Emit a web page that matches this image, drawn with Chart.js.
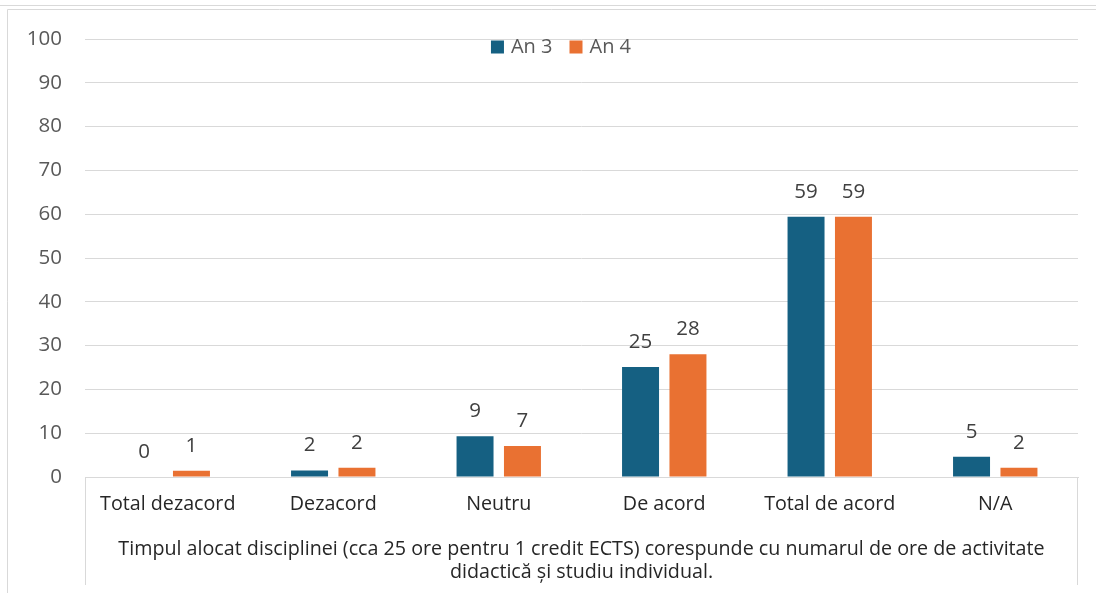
<!DOCTYPE html>
<html>
<head>
<meta charset="utf-8">
<script src="https://cdn.jsdelivr.net/npm/chart.js@4.4.1/dist/chart.umd.min.js"></script>
<style>
  html, body { margin: 0; padding: 0; background: #fff; }
  #wrap { width: 1096px; height: 593px; }
</style>
</head>
<body>
<div id="wrap"><canvas id="grafic"></canvas></div>
<script>
// date
const categorii = ['Total dezacord', 'Dezacord', 'Neutru', 'De acord', 'Total de acord', 'N/A'];
const an3 = [0, 1.5, 9.3, 25.1, 59.4, 4.6];
const an4 = [1.4, 2.1, 7.1, 28.0, 59.4, 2.1];
const ticksY = [0, 10, 20, 30, 40, 50, 60, 70, 80, 90, 100];
const titluAxa = [
    'Timpul alocat disciplinei (cca 25 ore pentru 1 credit ECTS) corespunde cu numarul de ore de activitate',
    'didactică și studiu individual.'
];

const FONT = 'Open Sans';

// etichete deasupra barelor (valori rotunjite)
const eticheteBare = {
    id: 'eticheteBare',
    afterDatasetsDraw(chart) {
        const ctx = chart.ctx;
        ctx.save();
        ctx.font = '20.5px "' + FONT + '"';
        ctx.fillStyle = '#404040';
        ctx.textAlign = 'center';
        ctx.textBaseline = 'middle';
        chart.data.datasets.forEach((ds, i) => {
            chart.getDatasetMeta(i).data.forEach((bar, j) => {
                ctx.fillText(String(Math.round(ds.data[j])), bar.x, bar.y - 25);
            });
        });
        ctx.restore();
    }
};

// legenda in interiorul zonei graficului, sus
const legenda = {
    id: 'legenda',
    afterDatasetsDraw(chart) {
        const ctx = chart.ctx;
        const y = chart.chartArea.top + 8;
        ctx.save();
        ctx.font = '20px "' + FONT + '"';
        ctx.textBaseline = 'middle';
        const items = chart.data.datasets.map(ds => ({ text: ds.label, color: ds.backgroundColor, w: ctx.measureText(ds.label).width }));
        const gap = 17, box = 13, boxGap = 7;
        const total = items.reduce((s, it) => s + box + boxGap + it.w, 0) + gap * (items.length - 1);
        let x = 561 - total / 2;
        items.forEach(it => {
            ctx.fillStyle = it.color;
            ctx.fillRect(x, y - box / 2, box, box);
            ctx.fillStyle = '#595959';
            ctx.fillText(it.text, x + box + boxGap, y);
            x += box + boxGap + it.w + gap;
        });
        ctx.restore();
    }
};

// chenar si caseta de sub axa
const chenar = {
    id: 'chenar',
    afterDraw(chart) {
        const ctx = chart.ctx;
        const a = chart.chartArea;
        ctx.save();
        ctx.strokeStyle = '#d9d9d9';
        ctx.lineWidth = 1;
        ctx.beginPath();
        ctx.moveTo(0, 5.5); ctx.lineTo(1096, 5.5);
        ctx.moveTo(7.5, 9.5); ctx.lineTo(1096, 9.5);
        ctx.moveTo(7.5, 9.5); ctx.lineTo(7.5, 593);
        ctx.moveTo(a.left + 0.5, a.bottom); ctx.lineTo(a.left + 0.5, 585);
        ctx.moveTo(a.right - 0.5, a.bottom); ctx.lineTo(a.right - 0.5, 585);
        ctx.stroke();
        ctx.restore();
    }
};

new Chart(document.getElementById('grafic'), {
    type: 'bar',
    data: {
        labels: categorii,
        datasets: [
            { label: 'An 3', data: an3, backgroundColor: '#156082' },
            { label: 'An 4', data: an4, backgroundColor: '#E97132' }
        ]
    },
    options: {
        responsive: true,
        maintainAspectRatio: false,
        animation: false,
        layout: { padding: { top: 39, right: 18, bottom: 0, left: 0 } },
        datasets: { bar: { categoryPercentage: 0.573, barPercentage: 0.78 } },
        plugins: {
            legend: { display: false },
            tooltip: { enabled: false }
        },
        scales: {
            x: {
                grid: { display: false, drawTicks: false },
                border: { color: '#d9d9d9' },
                ticks: { color: '#262626', padding: 16, font: { family: FONT, size: 19.7 }, maxRotation: 0 },
                title: {
                    display: true, text: titluAxa, color: '#262626',
                    font: { family: FONT, size: 19.7, lineHeight: 1.17 },
                    padding: { top: 0, bottom: 9 }
                },
                afterFit(scale) { scale.height = 116; }
            },
            y: {
                min: 0, max: 100,
                afterBuildTicks(scale) { scale.ticks = ticksY.map(v => ({ value: v })); },
                grid: { color: '#d9d9d9', drawTicks: false },
                border: { display: false },
                ticks: { color: '#595959', padding: 23, font: { family: FONT, size: 20.5 } },
                afterFit(scale) { scale.width = 85; }
            }
        }
    },
    plugins: [eticheteBare, legenda, chenar]
});
</script>
</body>
</html>
